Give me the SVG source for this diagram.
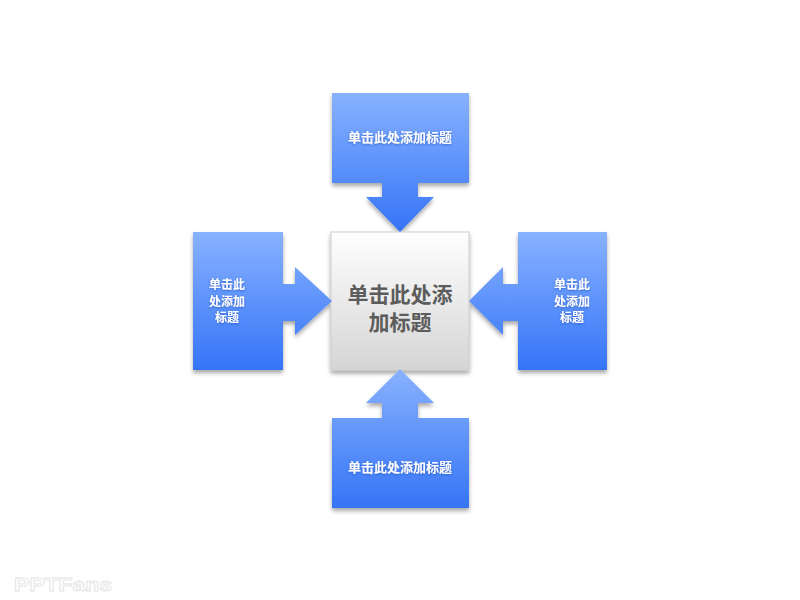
<svg xmlns="http://www.w3.org/2000/svg" width="800" height="600" viewBox="0 0 800 600">
  <defs>
    <linearGradient id="gTop" gradientUnits="userSpaceOnUse" x1="0" y1="93" x2="0" y2="232">
      <stop offset="0" stop-color="#88b2ff"/>
      <stop offset="1" stop-color="#3574f6"/>
    </linearGradient>
    <linearGradient id="gBot" gradientUnits="userSpaceOnUse" x1="0" y1="369" x2="0" y2="508">
      <stop offset="0" stop-color="#88b2ff"/>
      <stop offset="1" stop-color="#3574f6"/>
    </linearGradient>
    <linearGradient id="gSide" gradientUnits="userSpaceOnUse" x1="0" y1="232" x2="0" y2="370">
      <stop offset="0" stop-color="#88b2ff"/>
      <stop offset="1" stop-color="#3574f6"/>
    </linearGradient>
    <linearGradient id="gCenter" x1="0" y1="0" x2="0" y2="1">
      <stop offset="0" stop-color="#ffffff"/>
      <stop offset="1" stop-color="#d5d5d5"/>
    </linearGradient>
    <filter id="shadow" x="-10%" y="-10%" width="120%" height="125%">
      <feDropShadow dx="0" dy="3" stdDeviation="2" flood-color="#000" flood-opacity="0.35"/>
    </filter>
    <filter id="tglow" x="-10%" y="-30%" width="120%" height="160%">
      <feDropShadow dx="0" dy="0.8" stdDeviation="0.8" flood-color="#1c4fb5" flood-opacity="0.7"/>
    </filter>
  </defs>
  <style>
    .wt { fill: #ffffff; font-family: "Noto Sans CJK SC", "Noto Sans", sans-serif; font-size: 13px; font-weight: bold; text-anchor: middle; filter: url(#tglow); }
    .ws { font-size: 12px; }
    .ct { fill: #5c5c5c; font-family: "Noto Sans CJK SC", "Noto Sans", sans-serif; font-size: 21px; font-weight: bold; text-anchor: middle; }
  </style>
  <rect width="800" height="600" fill="#ffffff"/>
  <g filter="url(#shadow)">
    <g id="center">
      <rect x="331" y="232" width="138" height="138" fill="url(#gCenter)" stroke="#cccccc" stroke-width="1"/>
    </g>
    <g id="node-top">
      <rect x="332" y="93" width="137" height="90" fill="url(#gTop)"/>
    </g>
    <g id="node-left">
      <rect x="193" y="232" width="90" height="138" fill="url(#gSide)"/>
    </g>
    <g id="node-right">
      <rect x="518" y="232" width="89" height="138" fill="url(#gSide)"/>
    </g>
    <g id="node-bottom">
      <rect x="332" y="418" width="137" height="90" fill="url(#gBot)"/>
    </g>
    <g id="connectors">
      <path d="M382,180 H418 V197 H434 L400,232 L366,197 H382 Z" fill="url(#gTop)"/>
      <path d="M280,284 H295 V267 L332,301 L295,335 V321 H280 Z" fill="url(#gSide)"/>
      <path d="M521,284 H503 V267 L469,301 L503,335 V321 H521 Z" fill="url(#gSide)"/>
      <path d="M382,421 V403 H366 L400,369 L434,403 H418 V421 Z" fill="url(#gBot)"/>
    </g>
  </g>
  <g id="labels">
    <text class="wt" x="400" y="142">单击此处添加标题</text>
    <text class="wt" x="400" y="472">单击此处添加标题</text>
    <text class="wt ws" x="227" y="289">单击此</text>
    <text class="wt ws" x="227" y="305.5">处添加</text>
    <text class="wt ws" x="227" y="322">标题</text>
    <text class="wt ws" x="572" y="289">单击此</text>
    <text class="wt ws" x="572" y="305.5">处添加</text>
    <text class="wt ws" x="572" y="322">标题</text>
    <text class="ct" x="400" y="302">单击此处添</text>
    <text class="ct" x="400" y="330">加标题</text>
  </g>
  <text x="14" y="591" textLength="98" lengthAdjust="spacingAndGlyphs" font-family="Liberation Sans, sans-serif" font-size="18" font-weight="bold" fill="#ffffff" stroke="#e4e4e4" stroke-width="0.8">PPTFans</text>
</svg>
